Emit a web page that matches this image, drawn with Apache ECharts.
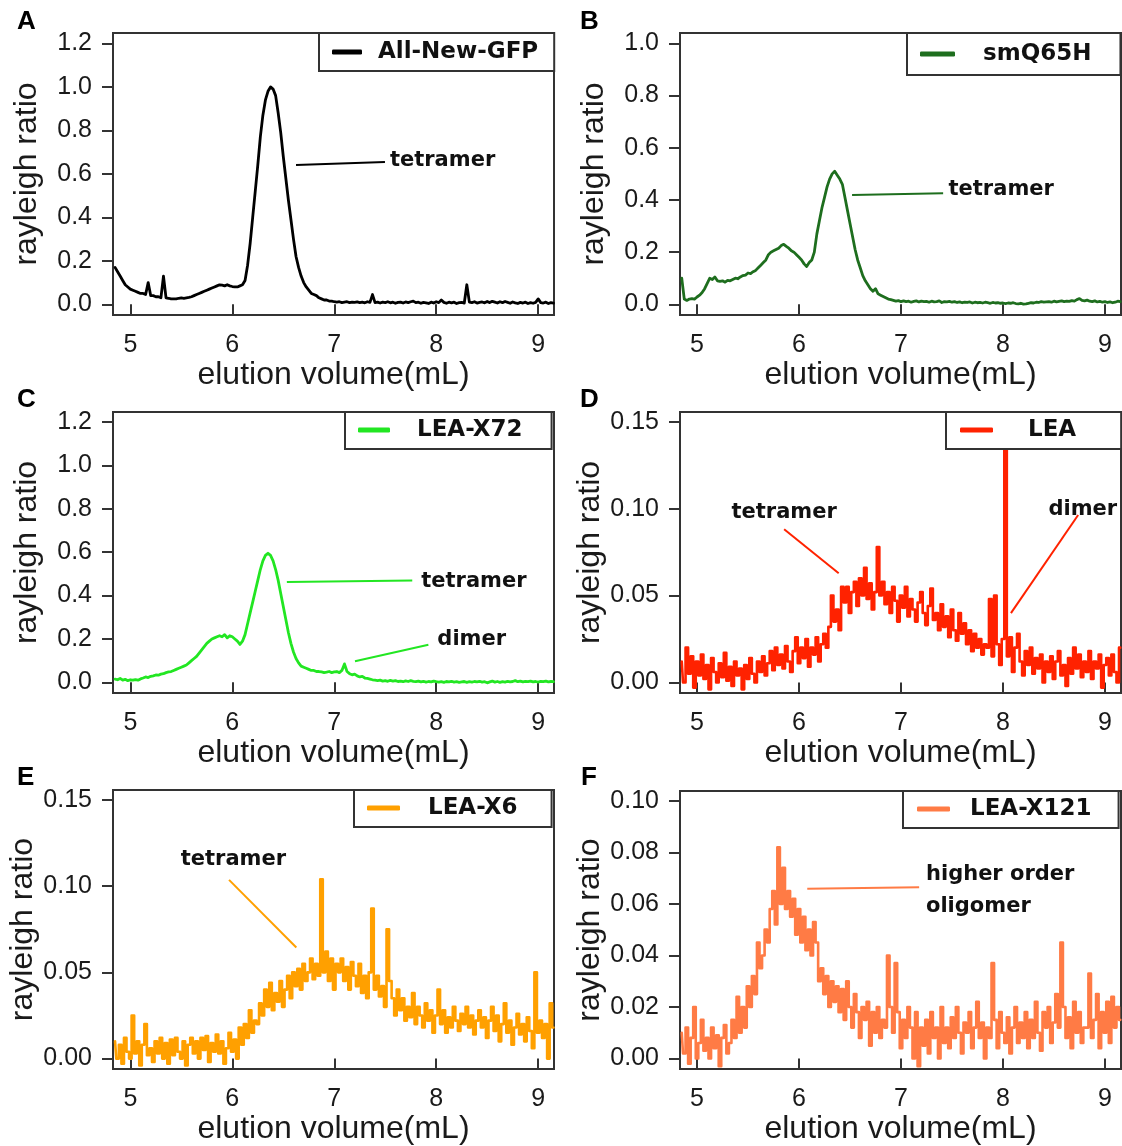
<!DOCTYPE html>
<html>
<head>
<meta charset="utf-8">
<script src="https://cdn.jsdelivr.net/npm/echarts@6/dist/echarts.min.js"></script>
<style>html,body{margin:0;padding:0;background:#fff}#c{width:1122px;height:1146px}</style>
</head>
<body>
<div id="c"></div>
<script>
// shared elution volume grid (mL), 0.025 step
const elutionVolume = [
4.85,4.875,4.9,4.925,4.95,4.975,5.0,5.025,
5.05,5.075,5.1,5.125,5.15,5.175,5.2,5.225,
5.25,5.275,5.3,5.325,5.35,5.375,5.4,5.425,
5.45,5.475,5.5,5.525,5.55,5.575,5.6,5.625,
5.65,5.675,5.7,5.725,5.75,5.775,5.8,5.825,
5.85,5.875,5.9,5.925,5.95,5.975,6.0,6.025,
6.05,6.075,6.1,6.125,6.15,6.175,6.2,6.225,
6.25,6.275,6.3,6.325,6.35,6.375,6.4,6.425,
6.45,6.475,6.5,6.525,6.55,6.575,6.6,6.625,
6.65,6.675,6.7,6.725,6.75,6.775,6.8,6.825,
6.85,6.875,6.9,6.925,6.95,6.975,7.0,7.025,
7.05,7.075,7.1,7.125,7.15,7.175,7.2,7.225,
7.25,7.275,7.3,7.325,7.35,7.375,7.4,7.425,
7.45,7.475,7.5,7.525,7.55,7.575,7.6,7.625,
7.65,7.675,7.7,7.725,7.75,7.775,7.8,7.825,
7.85,7.875,7.9,7.925,7.95,7.975,8.0,8.025,
8.05,8.075,8.1,8.125,8.15,8.175,8.2,8.225,
8.25,8.275,8.3,8.325,8.35,8.375,8.4,8.425,
8.45,8.475,8.5,8.525,8.55,8.575,8.6,8.625,
8.65,8.675,8.7,8.725,8.75,8.775,8.8,8.825,
8.85,8.875,8.9,8.925,8.95,8.975,9.0,9.025,
9.05,9.075,9.1,9.125,9.15];

const allNewGFP = [
0.17,0.15,0.13,0.11,0.09,0.08,0.07,0.065,
0.06,0.055,0.05,0.05,0.045,0.10,0.04,0.04,
0.035,0.035,0.03,0.13,0.03,0.028,0.025,0.025,
0.025,0.028,0.03,0.028,0.03,0.032,0.035,0.04,
0.045,0.05,0.055,0.06,0.065,0.07,0.075,0.08,
0.085,0.09,0.088,0.085,0.09,0.085,0.082,0.08,
0.08,0.085,0.09,0.11,0.18,0.28,0.4,0.52,
0.64,0.77,0.87,0.94,0.98,1.0,0.99,0.96,
0.88,0.79,0.68,0.58,0.48,0.39,0.3,0.22,
0.17,0.13,0.1,0.08,0.065,0.05,0.045,0.04,
0.03,0.025,0.02,0.02,0.015,0.015,0.012,0.01,
0.012,0.008,0.01,0.012,0.008,0.01,0.009,0.011,
0.008,0.01,0.007,0.012,0.009,0.045,0.008,0.01,
0.006,0.01,0.008,0.012,0.007,0.01,0.005,0.009,
0.01,0.006,0.011,0.008,0.012,0.015,0.008,0.01,
0.005,0.009,0.007,0.004,0.01,0.006,0.012,0.008,
0.02,0.009,0.005,0.01,0.007,0.01,0.004,0.008,
0.009,0.006,0.09,0.01,0.008,0.012,0.006,0.009,
0.011,0.007,0.013,0.008,0.014,0.01,0.006,0.012,
0.008,0.013,0.009,0.005,0.011,0.007,0.004,0.009,
0.006,0.01,0.004,0.008,0.005,0.009,0.025,0.008,
0.006,0.01,0.004,0.008,0.006];

const smQ65H = [
0.10,0.02,0.015,0.02,0.022,0.02,0.028,0.035,
0.045,0.06,0.08,0.1,0.095,0.105,0.09,0.088,
0.09,0.085,0.092,0.09,0.095,0.1,0.098,0.105,
0.11,0.112,0.12,0.118,0.125,0.13,0.14,0.15,
0.16,0.17,0.19,0.2,0.205,0.21,0.215,0.225,
0.23,0.222,0.215,0.205,0.2,0.19,0.18,0.17,
0.155,0.145,0.16,0.17,0.2,0.27,0.32,0.37,
0.41,0.45,0.48,0.5,0.51,0.495,0.48,0.46,
0.41,0.36,0.31,0.26,0.21,0.17,0.14,0.11,
0.09,0.075,0.06,0.05,0.06,0.04,0.035,0.03,
0.025,0.02,0.018,0.015,0.012,0.014,0.01,0.013,
0.01,0.012,0.008,0.011,0.013,0.009,0.012,0.01,
0.011,0.008,0.012,0.009,0.01,0.013,0.007,0.01,
0.009,0.011,0.008,0.01,0.007,0.009,0.006,0.008,
0.007,0.009,0.005,0.008,0.006,0.007,0.005,0.008,
0.006,0.004,0.007,0.005,0.006,0.004,0.005,0.003,
0.005,0.004,0.006,0.003,0.002,0.004,0.001,0.002,
0.004,0.006,0.005,0.008,0.007,0.01,0.008,0.009,
0.01,0.008,0.012,0.009,0.011,0.013,0.01,0.012,
0.011,0.014,0.012,0.018,0.022,0.015,0.013,0.016,
0.012,0.01,0.013,0.009,0.011,0.008,0.01,0.007,
0.009,0.006,0.008,0.012,0.01];

const leaX72 = [
0.015,0.012,0.018,0.01,0.014,0.008,0.012,0.01,
0.013,0.01,0.016,0.02,0.025,0.022,0.028,0.03,
0.034,0.033,0.038,0.04,0.045,0.048,0.05,0.055,
0.06,0.065,0.07,0.075,0.08,0.09,0.1,0.11,
0.12,0.135,0.15,0.165,0.18,0.19,0.2,0.205,
0.21,0.215,0.21,0.22,0.205,0.215,0.21,0.2,
0.19,0.175,0.19,0.22,0.27,0.32,0.37,0.42,
0.47,0.52,0.56,0.585,0.595,0.585,0.56,0.52,
0.47,0.41,0.35,0.29,0.23,0.18,0.14,0.11,
0.09,0.075,0.07,0.065,0.06,0.055,0.055,0.05,
0.05,0.048,0.045,0.047,0.05,0.045,0.048,0.05,
0.045,0.055,0.085,0.05,0.04,0.035,0.038,0.03,
0.025,0.028,0.02,0.018,0.015,0.012,0.01,0.008,
0.01,0.006,0.008,0.005,0.009,0.006,0.008,0.004,
0.006,0.003,0.007,0.004,0.008,0.005,0.003,0.006,
0.002,0.005,0.001,0.004,0.002,0.006,0.003,0.001,
0.003,0.0,0.004,0.002,0.005,0.001,0.003,0.0,
0.002,0.004,0.0,0.003,0.001,0.004,0.002,0.005,
0.001,0.003,-0.002,0.002,0.006,0.001,0.004,0.0,
0.003,0.001,0.005,0.002,0.004,0.008,0.003,0.006,
0.002,0.005,0.003,0.006,0.002,0.004,0.001,0.005,
0.003,0.006,0.002,0.004,0.003];

const lea = [
0.012,0.0,0.02,0.005,0.015,-0.003,0.012,0.004,
0.016,0.002,0.01,-0.004,0.014,0.006,0.0,0.011,
0.003,0.017,0.001,0.009,-0.002,0.012,0.004,0.008,
-0.004,0.01,0.002,0.014,0.005,0.0,0.012,0.006,
0.015,0.004,0.011,0.018,0.007,0.02,0.01,0.016,
0.008,0.021,0.012,0.006,0.018,0.026,0.011,0.02,
0.014,0.025,0.009,0.02,0.016,0.026,0.012,0.022,
0.028,0.02,0.032,0.05,0.035,0.042,0.03,0.055,
0.046,0.055,0.04,0.052,0.058,0.044,0.06,0.05,
0.066,0.048,0.057,0.042,0.052,0.078,0.05,0.058,
0.045,0.052,0.04,0.055,0.047,0.035,0.05,0.043,
0.055,0.038,0.048,0.042,0.035,0.046,0.052,0.04,
0.033,0.044,0.054,0.036,0.04,0.03,0.045,0.032,
0.038,0.026,0.042,0.03,0.024,0.04,0.028,0.034,
0.022,0.03,0.018,0.028,0.02,0.025,0.016,0.022,
0.02,0.048,0.015,0.05,0.022,0.01,0.025,0.14,
0.015,0.026,0.006,0.02,0.028,0.012,0.004,0.018,
0.01,0.02,0.005,0.014,0.008,0.016,0.0,0.012,
0.006,0.015,0.002,0.012,0.018,0.004,0.01,-0.002,
0.014,0.005,0.02,0.008,0.016,0.003,0.012,0.006,
0.018,0.002,0.012,0.008,0.016,-0.003,0.01,0.014,
0.004,0.016,0.006,0.0,0.02];

const leaX6 = [
0.01,0.0,0.008,-0.003,0.012,0.004,0.0,0.025,
0.003,0.01,-0.004,0.008,0.02,0.002,0.006,-0.002,
0.01,0.003,0.012,0.0,0.009,-0.003,0.011,0.002,
0.012,0.004,0.0,0.01,-0.004,0.008,0.012,0.003,
0.01,0.0,0.012,0.005,0.013,-0.002,0.009,0.004,
0.014,0.003,0.01,-0.003,0.006,0.015,0.004,0.011,
0.0,0.018,0.008,0.02,0.012,0.028,0.015,0.022,
0.02,0.032,0.025,0.04,0.03,0.044,0.028,0.038,
0.033,0.045,0.03,0.04,0.048,0.035,0.05,0.042,
0.052,0.04,0.055,0.045,0.05,0.058,0.046,0.055,
0.048,0.104,0.05,0.062,0.045,0.058,0.04,0.055,
0.05,0.058,0.045,0.053,0.04,0.056,0.048,0.042,
0.055,0.038,0.048,0.035,0.05,0.087,0.04,0.048,
0.036,0.042,0.03,0.075,0.045,0.035,0.025,0.04,
0.028,0.035,0.022,0.03,0.024,0.038,0.02,0.03,
0.025,0.018,0.032,0.022,0.028,0.015,0.025,0.04,
0.02,0.028,0.015,0.024,0.018,0.03,0.022,0.016,
0.026,0.02,0.03,0.018,0.025,0.014,0.022,0.028,
0.018,0.024,0.012,0.022,0.03,0.016,0.025,0.01,
0.02,0.032,0.015,0.022,0.008,0.018,0.026,0.014,
0.02,0.01,0.024,0.016,0.006,0.05,0.015,0.022,
0.012,0.02,0.0,0.032,0.018];

const leaX121 = [
0.01,0.002,0.012,-0.002,0.008,0.02,0.0,0.006,
0.015,0.003,0.008,0.0,0.012,0.004,0.009,-0.003,
0.008,0.013,0.002,0.006,0.015,0.008,0.024,0.01,
0.02,0.012,0.028,0.02,0.032,0.025,0.045,0.035,
0.04,0.05,0.045,0.058,0.065,0.052,0.082,0.06,
0.074,0.058,0.065,0.055,0.062,0.048,0.058,0.045,
0.055,0.042,0.05,0.04,0.053,0.045,0.03,0.035,
0.025,0.032,0.02,0.03,0.022,0.028,0.018,0.027,
0.015,0.03,0.02,0.012,0.025,0.018,0.008,0.02,
0.015,0.022,0.005,0.018,0.01,0.02,0.008,0.015,
0.012,0.04,0.02,0.01,0.037,0.018,0.004,0.015,
0.008,0.02,0.012,0.0,0.018,-0.003,0.012,0.005,
0.015,0.002,0.018,0.008,0.012,0.0,0.02,0.006,
0.012,0.004,0.016,0.008,0.02,0.01,0.002,0.014,
0.01,0.018,0.004,0.012,0.022,0.008,0.014,0.0,
0.012,0.008,0.037,0.015,0.004,0.018,0.01,0.006,
0.016,0.002,0.012,0.02,0.006,0.014,0.008,0.018,
0.004,0.015,0.008,0.022,0.01,0.003,0.018,0.012,
0.02,0.006,0.014,0.025,0.012,0.045,0.02,0.008,
0.016,0.004,0.022,0.01,0.018,0.006,0.012,0.012,
0.033,0.008,0.015,0.025,0.004,0.018,0.01,0.022,
0.006,0.024,0.012,0.02,0.015];

const panelLetters = ['A','B','C','D','E','F'];
const seriesNames = ['All-New-GFP','smQ65H','LEA-X72','LEA','LEA-X6','LEA-X121'];
const seriesValues = [allNewGFP, smQ65H, leaX72, lea, leaX6, leaX121];
const xTicks = [5,6,7,8,9];
const yTicksBig = [0,0.2,0.4,0.6,0.8,1.0,1.2];
const yTicksB = [0,0.2,0.4,0.6,0.8,1.0];
const yTicksSmall = [0,0.05,0.10,0.15];
const yTicksF = [0,0.02,0.04,0.06,0.08,0.10];
const yTickSets = [yTicksBig, yTicksB, yTicksBig, yTicksSmall, yTicksSmall, yTicksF];
const yDecimals = [1,1,1,2,2,2];
// annotation texts
const annotations = [
  [{text:'tetramer', line:[[6.625,0.641],[7.497,0.655]], at:[7.546,0.661], align:'left'}],
  [{text:'tetramer', line:[[6.52,0.419],[7.413,0.426]], at:[7.466,0.439], align:'left'}],
  [{text:'tetramer', line:[[6.535,0.462],[7.765,0.469]], at:[7.853,0.466], align:'left'},
   {text:'dimer', line:[[7.203,0.097],[7.923,0.173]], at:[8.011,0.196], align:'left'}],
  [{text:'tetramer', line:[[5.854,0.0882],[6.389,0.0629]], at:[5.854,0.0977], align:'center'},
   {text:'dimer', line:[[8.737,0.0964],[8.078,0.0399]], at:[8.446,0.0993], align:'left'}],
  [{text:'tetramer', line:[[5.968,0.1036],[6.628,0.0644]], at:[6.011,0.1151], align:'center'}],
  [{text:'higher order\noligomer', line:[[6.081,0.0659],[7.178,0.0665]], at:[7.245,0.0651], align:'left'}]
];

const colors = ['#000000','#1e6e1e','#22e622','#ff2200','#ffa000','#ff7b45'];
const grids = [
  {left:113, top:33, width:441, height:282},
  {left:680, top:33, width:441, height:282},
  {left:113, top:412, width:441, height:281},
  {left:680, top:412, width:441, height:281},
  {left:113, top:790, width:441, height:282},
  {left:680, top:791, width:441, height:281}
];
const xRanges = [[4.83,9.155],[4.833,9.157],[4.83,9.155],[4.833,9.157],[4.83,9.155],[4.833,9.157]];
const yRanges = [[-0.049,1.248],[-0.041,1.04],[-0.049,1.246],[-0.0061,0.1557],[-0.0061,0.1557],[-0.0041,0.1038]];
const letterPos = [[17,9],[580,9],[17,387],[580,387],[17,765],[581,765]];
const legendCfg = [
  {left:319, top:33, iw:30, pad:[7,16,7,13], gap:11},
  {left:907, top:33, iw:35, pad:[9,29,9,13], gap:23},
  {left:345, top:412, iw:32, pad:[6,29,7,13], gap:22},
  {left:946, top:412, iw:33, pad:[6,45,7,14], gap:30},
  {left:354, top:790, iw:33, pad:[6,34,7,13], gap:23},
  {left:903, top:791, iw:33, pad:[6,27,7,14], gap:15}
];

const numFont = 'Liberation Sans, Arial, sans-serif';
const boldFont = 'DejaVu Sans, Verdana, sans-serif';
const ink = '#1a1a1a';

const option = {animation:false, backgroundColor:'#fff',
  title:[], grid:[], xAxis:[], yAxis:[], legend:[], series:[]};

for (let i=0;i<6;i++){
  const g = grids[i];
  const noisy = i >= 3;
  option.grid.push(Object.assign({show:true, borderColor:'#333', borderWidth:2, backgroundColor:'transparent'}, g));
  option.title.push({text:panelLetters[i], left:letterPos[i][0], top:letterPos[i][1], padding:0,
    textStyle:{fontFamily:numFont, fontWeight:'bold', fontSize:26, color:'#000'}});
  option.xAxis.push({type:'value', gridIndex:i, min:xRanges[i][0], max:xRanges[i][1],
    axisLine:{show:false}, splitLine:{show:false},
    axisTick:{show:true, customValues:xTicks, length:11, lineStyle:{color:'#333', width:2}},
    axisLabel:{customValues:xTicks, fontFamily:numFont, fontSize:25, color:ink, margin:18},
    name:'elution volume(mL)', nameLocation:'middle', nameGap:43,
    nameTextStyle:{fontFamily:numFont, fontSize:32, color:ink}});
  const dec = yDecimals[i];
  option.yAxis.push({type:'value', gridIndex:i, min:yRanges[i][0], max:yRanges[i][1],
    axisLine:{show:false}, splitLine:{show:false},
    axisTick:{show:true, customValues:yTickSets[i], length:11, lineStyle:{color:'#333', width:2}},
    axisLabel:{customValues:yTickSets[i], fontFamily:numFont, fontSize:25, color:ink, margin:21,
      formatter:(v)=>Number(v).toFixed(dec)},
    name:'rayleigh ratio', nameLocation:'middle', nameGap:70,
    nameTextStyle:{fontFamily:numFont, fontSize:32, color:ink, lineHeight:32}});
  const lc = legendCfg[i];
  option.legend.push({data:[seriesNames[i]], left:lc.left, top:lc.top, orient:'horizontal',
    icon:'roundRect', itemWidth:lc.iw, itemHeight:5, padding:lc.pad, selectedMode:false,
    backgroundColor:'#fff', borderColor:'#333', borderWidth:2, borderRadius:0,
    textStyle:{fontFamily:boldFont, fontWeight:'bold', fontSize:23, color:'#111', lineHeight:24, padding:[0,0,0,lc.gap]}});
  const data = elutionVolume.map((x,k)=>[x, seriesValues[i][k]]);
  const ann = annotations[i];
  option.series.push({type:'line', name:seriesNames[i], xAxisIndex:i, yAxisIndex:i, data:data,
    showSymbol:false, symbol:'none', color:colors[i], step: noisy ? 'middle' : false,
    lineStyle:{color:colors[i], width: noisy ? 2.6 : 2.8, join:'round', cap:'round'}, z:2,
    markLine:{silent:true, symbol:['none','none'], animation:false,
      lineStyle:{color:colors[i], width:2, type:'solid'}, label:{show:false},
      data: ann.map(a=>[{coord:a.line[0]},{coord:a.line[1]}])},
    markPoint:{silent:true, symbol:'circle', symbolSize:1, itemStyle:{color:'rgba(0,0,0,0)'}, animation:false,
      data: ann.map(a=>({coord:a.at, name:a.text,
        label:{show:true, formatter:'{b}', position:'inside', align:a.align, verticalAlign:'middle',
          fontFamily:boldFont, fontWeight:'bold', fontSize:21, color:'#111', lineHeight:32}}))}
  });
}

const chart = echarts.init(document.getElementById('c'), null, {renderer:'canvas'});
chart.setOption(option);
</script>
</body>
</html>
